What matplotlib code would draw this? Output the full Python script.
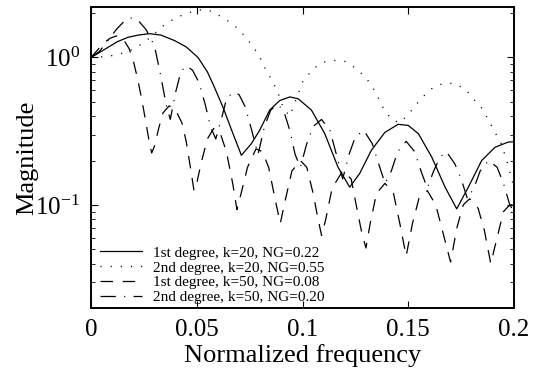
import matplotlib
matplotlib.use("Agg")
import matplotlib.pyplot as plt
from matplotlib.ticker import LogLocator, NullFormatter

# values
solid_x = [0, 0.004, 0.008, 0.0125, 0.0175, 0.0225, 0.0277, 0.033, 0.0396, 0.045, 0.0506,
           0.055, 0.0577, 0.0624, 0.0671, 0.0711, 0.0758, 0.0797, 0.0845, 0.0892, 0.094,
           0.0979, 0.1042, 0.1105, 0.1168, 0.1223, 0.127, 0.1325, 0.1389, 0.1452, 0.15,
           0.1548, 0.1611, 0.1674, 0.1729, 0.1784, 0.1847, 0.191, 0.1973, 0.2]
solid_y = [1.0, 1.08, 1.17, 1.28, 1.37, 1.42, 1.45, 1.42, 1.30, 1.18, 1.0,
           0.80, 0.66, 0.46, 0.305, 0.217, 0.26, 0.32, 0.44, 0.51, 0.54,
           0.525, 0.44, 0.305, 0.18, 0.132, 0.163, 0.234, 0.31, 0.352, 0.346,
           0.304, 0.211, 0.132, 0.094, 0.132, 0.20, 0.246, 0.267, 0.268]

dot_x = [0, 0.005, 0.01, 0.015, 0.02, 0.025, 0.03, 0.035, 0.04, 0.045, 0.05, 0.053, 0.056,
         0.06, 0.065, 0.07, 0.075, 0.079, 0.082, 0.085, 0.088, 0.091, 0.094, 0.097, 0.1,
         0.105, 0.11, 0.115, 0.12, 0.125, 0.13, 0.134, 0.138, 0.142, 0.146, 0.15, 0.154,
         0.158, 0.162, 0.167, 0.172, 0.177, 0.181, 0.185, 0.19, 0.194, 0.197, 0.2]
dot_y = [1.0, 1.01, 1.03, 1.07, 1.14, 1.26, 1.45, 1.68, 1.85, 1.99, 2.08, 2.12, 2.08,
         1.95, 1.76, 1.55, 1.27, 1.06, 0.86, 0.72, 0.6, 0.45, 0.4, 0.52, 0.68,
         0.84, 0.93, 0.955, 0.94, 0.85, 0.73, 0.6, 0.46, 0.38, 0.36, 0.41, 0.485,
         0.56, 0.63, 0.67, 0.665, 0.61, 0.52, 0.45, 0.33, 0.26, 0.19, 0.13]

dash_x = [0, 0.003, 0.006, 0.009, 0.012, 0.015, 0.018, 0.02, 0.022, 0.024, 0.026, 0.0275,
          0.0287, 0.03, 0.032, 0.034, 0.037, 0.04, 0.043, 0.045, 0.047, 0.0487, 0.05, 0.052,
          0.055, 0.058, 0.061, 0.064, 0.067, 0.069, 0.071, 0.074, 0.078, 0.081, 0.084, 0.087,
          0.0895, 0.092, 0.095, 0.099, 0.102, 0.105, 0.107, 0.109, 0.111, 0.114, 0.119, 0.123,
          0.126, 0.128, 0.13, 0.132, 0.135, 0.139, 0.143, 0.146, 0.149, 0.152, 0.155, 0.159,
          0.163, 0.167, 0.17, 0.173, 0.176, 0.179, 0.183, 0.186, 0.189, 0.192, 0.195, 0.198, 0.2]
dash_y = [1.0, 1.12, 1.25, 1.35, 1.4, 1.35, 1.15, 0.95, 0.72, 0.52, 0.36, 0.27,
          0.225, 0.25, 0.33, 0.42, 0.47, 0.44, 0.36, 0.27, 0.18, 0.125, 0.14, 0.19,
          0.28, 0.33, 0.31, 0.23, 0.14, 0.093, 0.12, 0.18, 0.24, 0.23, 0.18, 0.11,
          0.075, 0.11, 0.17, 0.2, 0.18, 0.12, 0.085, 0.062, 0.08, 0.13, 0.17, 0.15,
          0.09, 0.065, 0.051, 0.075, 0.12, 0.14, 0.12, 0.075, 0.045, 0.075, 0.11, 0.125,
          0.1, 0.06, 0.041, 0.07, 0.1, 0.11, 0.095, 0.067, 0.04, 0.06, 0.09, 0.1, 0.1]

dd_x = [0, 0.004, 0.008, 0.012, 0.016, 0.019, 0.022, 0.026, 0.03, 0.033, 0.0355, 0.0375,
        0.04, 0.0425, 0.045, 0.048, 0.051, 0.054, 0.0565, 0.059, 0.062, 0.064, 0.067, 0.07,
        0.073, 0.076, 0.079, 0.082, 0.085, 0.088, 0.091, 0.094, 0.0965, 0.099, 0.102, 0.105,
        0.109, 0.113, 0.116, 0.119, 0.122, 0.125, 0.129, 0.133, 0.136, 0.139, 0.142, 0.145,
        0.149, 0.153, 0.156, 0.159, 0.162, 0.165, 0.168, 0.172, 0.175, 0.178, 0.181, 0.184,
        0.188, 0.192, 0.195, 0.198, 0.2]
dd_y = [1.0, 1.1, 1.3, 1.55, 1.78, 1.85, 1.8, 1.55, 1.2, 0.75, 0.48, 0.38,
        0.58, 0.8, 0.88, 0.82, 0.68, 0.48, 0.34, 0.28, 0.4, 0.52, 0.58, 0.56,
        0.46, 0.32, 0.22, 0.34, 0.44, 0.48, 0.44, 0.32, 0.22, 0.18, 0.26, 0.34,
        0.38, 0.32, 0.22, 0.15, 0.22, 0.29, 0.32, 0.26, 0.19, 0.14, 0.17, 0.23,
        0.27, 0.23, 0.17, 0.13, 0.17, 0.21, 0.23, 0.19, 0.15, 0.11, 0.13, 0.17,
        0.20, 0.18, 0.14, 0.1, 0.09]

labels = ["1st degree, k=20, NG=0.22", "2nd degree, k=20, NG=0.55",
          "1st degree, k=50, NG=0.08", "2nd degree, k=50, NG=0.20"]

plt.rcParams["font.family"] = ["Liberation Serif", "DejaVu Serif"]
plt.rcParams["mathtext.fontset"] = "custom"
plt.rcParams["mathtext.rm"] = "Liberation Serif"
plt.rcParams["mathtext.it"] = "Liberation Serif:italic"
plt.rcParams["lines.scale_dashes"] = False

fig = plt.figure(figsize=(5.33, 3.76), dpi=100)
ax = fig.add_axes([0.1707, 0.181, 0.7937, 0.8004])

ax.plot(solid_x, solid_y, color="black", lw=0.9, label=labels[0])
ax.plot(dot_x, dot_y, color="black", lw=1.0, linestyle=(0, (0.8, 6.5)), label=labels[1])
ax.plot(dash_x, dash_y, color="black", lw=0.9, linestyle=(0, (9, 7)), label=labels[2])
ax.plot(dd_x, dd_y, color="black", lw=0.9, linestyle=(0, (11, 6, 0.8, 6)), label=labels[3])

ax.set_yscale("log")
ax.set_xlim(0, 0.2)
ax.set_ylim(0.02, 2.2)
ax.set_xticks([0, 0.05, 0.1, 0.15, 0.2])
ax.set_xticklabels(["0", "0.05", "0.1", "0.15", "0.2"])
ax.yaxis.set_major_locator(LogLocator(base=10, numticks=5))
ax.yaxis.set_minor_locator(LogLocator(base=10, subs=range(2, 10), numticks=10))
ax.yaxis.set_minor_formatter(NullFormatter())
ax.tick_params(which="both", direction="in", top=True, right=True, labelsize=18)
ax.tick_params(which="major", length=5, width=0.8, pad=8)
ax.tick_params(which="minor", length=3, width=0.6)
for s in ax.spines.values():
    s.set_linewidth(1.4)

ax.set_xlabel("Normalized frequency", fontsize=19, labelpad=2)
ax.set_ylabel("Magnitude", fontsize=19, labelpad=-2)

ax.legend(loc="lower left", bbox_to_anchor=(0.012, 0.0), frameon=False, fontsize=11,
          handlelength=2.75, labelspacing=0.07, borderaxespad=0.1, handletextpad=0.72,
          borderpad=0.15)

fig.savefig("out.png", dpi=100)
